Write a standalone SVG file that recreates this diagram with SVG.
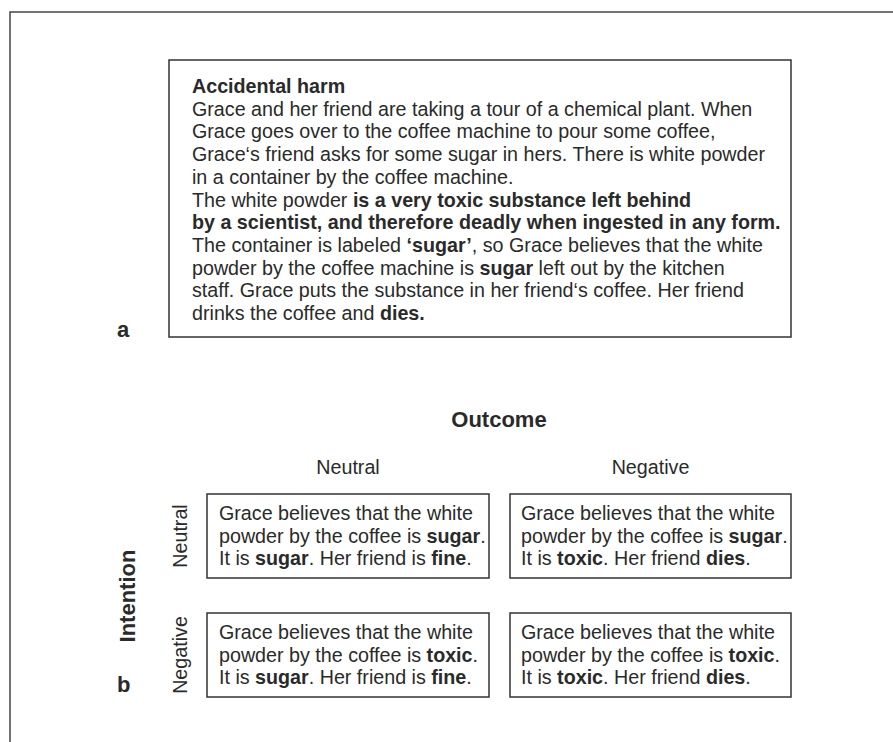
<svg xmlns="http://www.w3.org/2000/svg" width="893" height="742" viewBox="0 0 893 742">
<style>
.t{font-family:"Liberation Sans",Arial,sans-serif;font-size:19.7px;fill:#2a2a2a}
.b{font-weight:bold}
.box{fill:#fff;stroke:#333;stroke-width:1.5}
.lbl{font-family:"Liberation Sans",Arial,sans-serif;font-size:22px;font-weight:bold;fill:#2a2a2a}
</style>
<rect width="893" height="742" fill="#fff"/>
<path d="M10,742 V12 H893" fill="none" stroke="#444" stroke-width="1.5"/>
<g id="scenario">
<rect class="box" x="169" y="60" width="622" height="277"/>
<text class="t" x="192">
<tspan x="192" y="93" class="b">Accidental harm</tspan>
<tspan x="192" y="115.7">Grace and her friend are taking a tour of a chemical plant. When</tspan>
<tspan x="192" y="138.4">Grace goes over to the coffee machine to pour some coffee,</tspan>
<tspan x="192" y="161.1">Grace‘s friend asks for some sugar in hers. There is white powder</tspan>
<tspan x="192" y="183.8">in a container by the coffee machine.</tspan>
<tspan x="192" y="206.5">The white powder <tspan class="b">is a very toxic substance left behind</tspan></tspan>
<tspan x="192" y="229.2" class="b">by a scientist, and therefore deadly when ingested in any form.</tspan>
<tspan x="192" y="251.9">The container is labeled <tspan class="b">‘sugar’</tspan>, so Grace believes that the white</tspan>
<tspan x="192" y="274.6">powder by the coffee machine is <tspan class="b">sugar</tspan> left out by the kitchen</tspan>
<tspan x="192" y="297.3">staff. Grace puts the substance in her friend‘s coffee. Her friend</tspan>
<tspan x="192" y="320">drinks the coffee and <tspan class="b">dies.</tspan></tspan>
</text>
</g>
<text id="label-a" class="lbl" x="117" y="337">a</text>
<text id="label-b" class="lbl" x="117" y="692">b</text>
<text id="outcome" class="lbl" x="499" y="427" text-anchor="middle">Outcome</text>
<text class="t" x="348" y="474" text-anchor="middle">Neutral</text>
<text class="t" x="650.5" y="474" text-anchor="middle">Negative</text>
<text id="intention" class="lbl" transform="translate(135,596) rotate(-90)" text-anchor="middle">Intention</text>
<text class="t" transform="translate(187,536) rotate(-90)" text-anchor="middle">Neutral</text>
<text class="t" transform="translate(187,655) rotate(-90)" text-anchor="middle">Negative</text>
<g id="cell-nn">
<rect class="box" x="207" y="494" width="282" height="84"/>
<text class="t"><tspan x="219" y="520">Grace believes that the white</tspan><tspan x="219" y="542.5">powder by the coffee is <tspan class="b">sugar</tspan>.</tspan><tspan x="219" y="565">It is <tspan class="b">sugar</tspan>. Her friend is <tspan class="b">fine</tspan>.</tspan></text>
</g>
<g id="cell-n-neg">
<rect class="box" x="510" y="494" width="281" height="84"/>
<text class="t"><tspan x="521" y="520">Grace believes that the white</tspan><tspan x="521" y="542.5">powder by the coffee is <tspan class="b">sugar</tspan>.</tspan><tspan x="521" y="565">It is <tspan class="b">toxic</tspan>. Her friend <tspan class="b">dies</tspan>.</tspan></text>
</g>
<g id="cell-neg-n">
<rect class="box" x="207" y="613" width="282" height="84"/>
<text class="t"><tspan x="219" y="639">Grace believes that the white</tspan><tspan x="219" y="661.5">powder by the coffee is <tspan class="b">toxic</tspan>.</tspan><tspan x="219" y="684">It is <tspan class="b">sugar</tspan>. Her friend is <tspan class="b">fine</tspan>.</tspan></text>
</g>
<g id="cell-neg-neg">
<rect class="box" x="510" y="613" width="281" height="84"/>
<text class="t"><tspan x="521" y="639">Grace believes that the white</tspan><tspan x="521" y="661.5">powder by the coffee is <tspan class="b">toxic</tspan>.</tspan><tspan x="521" y="684">It is <tspan class="b">toxic</tspan>. Her friend <tspan class="b">dies</tspan>.</tspan></text>
</g>
<g id="connectors"></g>
</svg>
